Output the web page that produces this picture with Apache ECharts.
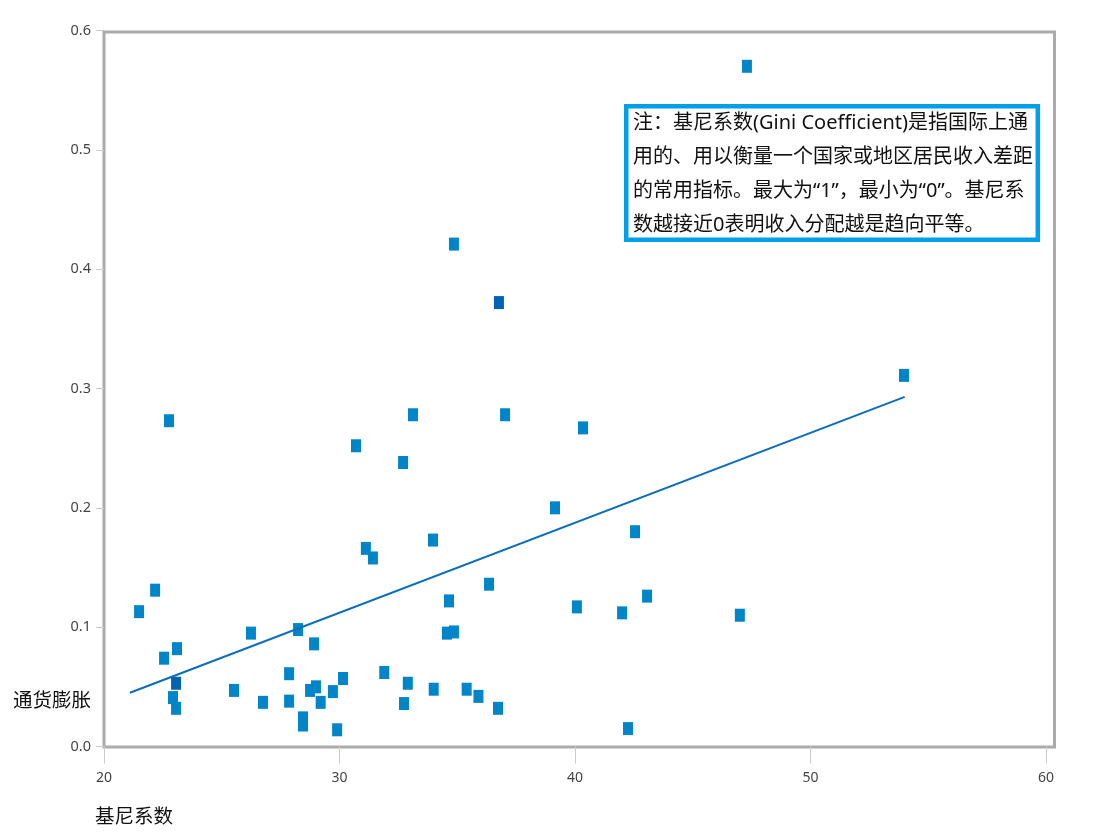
<!DOCTYPE html>
<html>
<head>
<meta charset="utf-8">
<script src="https://cdn.jsdelivr.net/npm/echarts@6/dist/echarts.min.js"></script>
<style>
html, body { margin: 0; padding: 0; background: #fff; }
#main { width: 1117px; height: 838px; }
</style>
</head>
<body>
<div id="main"></div>
<script>
// 基尼系数 (x) / 通货膨胀 (y)
var gini = [21.49, 22.17, 22.55, 22.76, 23.10, 22.93, 23.06, 25.52, 26.24, 26.75,
    27.86, 27.86, 28.24, 28.45, 28.45, 28.92, 28.75, 29.0, 29.2, 29.72,
    29.9, 30.15, 31.9, 30.7, 31.12, 31.42, 32.7, 33.12, 32.74, 32.9,
    34.0, 33.97, 34.56, 34.86, 34.65, 34.86, 35.4, 35.9, 36.35, 36.73,
    37.03, 39.15, 40.08, 40.34, 42.0, 42.25, 42.55, 43.06, 47.0, 47.3, 53.97];
var inflation = [0.113, 0.131, 0.074, 0.273, 0.082, 0.041, 0.032, 0.047, 0.095, 0.037,
    0.061, 0.038, 0.098, 0.024, 0.018, 0.086, 0.047, 0.050, 0.037, 0.046,
    0.014, 0.057, 0.062, 0.252, 0.166, 0.158, 0.238, 0.278, 0.036, 0.053,
    0.048, 0.173, 0.095, 0.096, 0.122, 0.421, 0.048, 0.042, 0.136, 0.032,
    0.278, 0.200, 0.117, 0.267, 0.112, 0.015, 0.180, 0.126, 0.110, 0.570, 0.311];

// points drawn darker (overlapping values)
var giniDark = [23.06, 36.77];
var inflationDark = [0.053, 0.372];

// trend line end points
var trendGini = [21.1, 54.0];
var trendInflation = [0.045, 0.293];

var xTicks = [20, 30, 40, 50, 60];
var yTicks = [0, 0.1, 0.2, 0.3, 0.4, 0.5, 0.6];

var note = '注：基尼系数(Gini Coefficient)是指国际上通\n' +
    '用的、用以衡量一个国家或地区居民收入差距\n' +
    '的常用指标。最大为“1”，最小为“0”。基尼系\n' +
    '数越接近0表明收入分配越是趋向平等。';

function zip(a, b) {
    var out = [];
    for (var i = 0; i < a.length; i++) out.push([a[i], b[i]]);
    return out;
}

var labelFont = '"Noto Sans", "Noto Sans CJK SC", sans-serif';
var cjkFont = '"Noto Sans CJK SC", "Noto Sans", sans-serif';

var myChart = echarts.init(document.getElementById('main'));
var option = {
    backgroundColor: '#fff',
    animation: false,
    grid: {
        left: 104,
        right: 71,
        top: 30.5,
        bottom: 91.5
    },
    xAxis: {
        type: 'value',
        min: xTicks[0],
        max: xTicks[xTicks.length - 1],
        interval: 10,
        axisLine: { show: false },
        axisTick: { show: true, length: 17, lineStyle: { color: '#cccccc', width: 1 } },
        axisLabel: { margin: 25, fontSize: 14, color: '#444', fontFamily: labelFont },
        splitLine: { show: false }
    },
    yAxis: {
        type: 'value',
        min: yTicks[0],
        max: yTicks[yTicks.length - 1],
        interval: 0.1,
        axisLine: { show: false },
        axisTick: { show: true, length: 8, lineStyle: { color: '#cccccc', width: 1 } },
        axisLabel: {
            margin: 13, fontSize: 14.5, color: '#444', fontFamily: labelFont,
            padding: [0, 0, 6, 0],
            formatter: function (v) { return v.toFixed(1); }
        },
        splitLine: { show: false }
    },
    series: [
        {
            name: '通货膨胀',
            type: 'scatter',
            symbol: 'rect',
            symbolSize: [10, 13],
            itemStyle: { color: '#0086c8', opacity: 1 },
            data: zip(gini, inflation),
            z: 2
        },
        {
            name: '通货膨胀',
            type: 'scatter',
            symbol: 'rect',
            symbolSize: [10, 13],
            itemStyle: { color: '#0064b2', opacity: 1 },
            data: zip(giniDark, inflationDark),
            z: 3
        },
        {
            name: '趋势',
            type: 'line',
            showSymbol: false,
            symbol: 'none',
            lineStyle: { color: '#0b6dbd', width: 2 },
            data: zip(trendGini, trendInflation),
            z: 4
        }
    ],
    graphic: [
        {
            type: 'rect',
            z: 0,
            silent: true,
            shape: { x: 104, y: 32, width: 950.5, height: 715 },
            style: { fill: null, stroke: '#ababab', lineWidth: 3 }
        },
        {
            type: 'rect',
            z: 10,
            silent: true,
            shape: { x: 626.2, y: 106.2, width: 411.6, height: 133.6 },
            style: { fill: '#fff', stroke: '#00a0e9', lineWidth: 4.5 }
        },
        {
            type: 'text',
            z: 11,
            silent: true,
            x: 633,
            y: 106,
            style: {
                text: note,
                font: '20px ' + labelFont,
                lineHeight: 34,
                fill: '#111',
                verticalAlign: 'top'
            }
        },
        {
            type: 'text',
            silent: true,
            x: 13,
            y: 700,
            style: {
                text: '通货膨胀',
                font: '19.5px ' + cjkFont,
                fill: '#111',
                verticalAlign: 'middle'
            }
        },
        {
            type: 'text',
            silent: true,
            x: 95,
            y: 816,
            style: {
                text: '基尼系数',
                font: '19.5px ' + cjkFont,
                fill: '#111',
                verticalAlign: 'middle'
            }
        }
    ]
};

myChart.setOption(option);
window.onresize = myChart.resize;
</script>
</body>
</html>
